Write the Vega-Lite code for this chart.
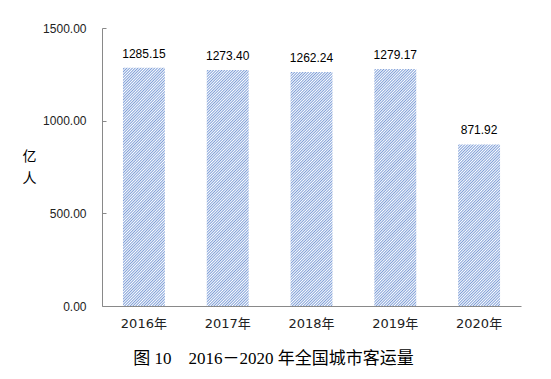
{
  "$schema": "https://vega.github.io/schema/vega-lite/v6.json",
  "width": 419,
  "height": 278,
  "autosize": {"type": "none"},
  "padding": {"left": 102, "top": 28, "right": 30, "bottom": 73},
  "background": "white",
  "config": {"view": {"stroke": null}},
  "data": {"values": [
    {"year": "2016年", "value": 1285.15},
    {"year": "2017年", "value": 1273.40},
    {"year": "2018年", "value": 1262.24},
    {"year": "2019年", "value": 1279.17},
    {"year": "2020年", "value": 871.92}
  ]},
  "encoding": {
    "x": {"field": "year", "type": "nominal", "sort": null,
      "scale": {"paddingInner": 0.5, "paddingOuter": 0.25},
      "axis": {"title": "图 10　2016－2020 年全国城市客运量", "labelAngle": 0, "ticks": false,
        "domainColor": "#898989", "labelFont": "DejaVu Sans, Noto Sans CJK SC", "labelFontSize": 13,
        "labelColor": "#222", "labelPadding": 11, "labelBaseline": "top",
        "titleFont": "Liberation Serif, Noto Sans CJK SC", "titleFontSize": 17, "titleFontWeight": "normal",
        "titleColor": "#000", "titleX": 171, "titleY": 52, "titleAlign": "center", "titleBaseline": "middle"}},
    "y": {"field": "value", "type": "quantitative", "scale": {"domain": [0, 1500]},
      "axis": {"values": [0, 500, 1000, 1500], "format": ".2f", "grid": false,
        "title": ["亿", "人"], "titleAngle": 0, "titleX": -73, "titleY": 128, "titleAlign": "center",
        "titleBaseline": "middle", "titleFont": "Noto Sans CJK SC", "titleFontSize": 14,
        "titleFontWeight": "normal", "titleLineHeight": 22, "titleColor": "#000",
        "domainColor": "#898989", "tickColor": "#898989", "tickSize": -4, "labelPadding": 20,
        "labelFont": "Liberation Sans", "labelFontSize": 12, "labelColor": "#222"}}
  },
  "layer": [
    {"mark": {"type": "bar"},
     "encoding": {"fill": {
       "condition": {"test": "datum.year === '2020年'", "value": {"gradient": "linear", "x1": 0, "y1": 0, "x2": 0.4178, "y2": 1.6113, "stops": [
{"offset":0,"color":"#fff"},{"offset":0.005,"color":"#7f9fd8"},{"offset":0.01,"color":"#fff"},{"offset":0.015,"color":"#7f9fd8"},{"offset":0.02,"color":"#fff"},{"offset":0.025,"color":"#7f9fd8"},{"offset":0.03,"color":"#fff"},{"offset":0.035,"color":"#7f9fd8"},{"offset":0.04,"color":"#fff"},{"offset":0.045,"color":"#7f9fd8"},
{"offset":0.05,"color":"#fff"},{"offset":0.055,"color":"#7f9fd8"},{"offset":0.06,"color":"#fff"},{"offset":0.065,"color":"#7f9fd8"},{"offset":0.07,"color":"#fff"},{"offset":0.075,"color":"#7f9fd8"},{"offset":0.08,"color":"#fff"},{"offset":0.085,"color":"#7f9fd8"},{"offset":0.09,"color":"#fff"},{"offset":0.095,"color":"#7f9fd8"},
{"offset":0.1,"color":"#fff"},{"offset":0.105,"color":"#7f9fd8"},{"offset":0.11,"color":"#fff"},{"offset":0.115,"color":"#7f9fd8"},{"offset":0.12,"color":"#fff"},{"offset":0.125,"color":"#7f9fd8"},{"offset":0.13,"color":"#fff"},{"offset":0.135,"color":"#7f9fd8"},{"offset":0.14,"color":"#fff"},{"offset":0.145,"color":"#7f9fd8"},
{"offset":0.15,"color":"#fff"},{"offset":0.155,"color":"#7f9fd8"},{"offset":0.16,"color":"#fff"},{"offset":0.165,"color":"#7f9fd8"},{"offset":0.17,"color":"#fff"},{"offset":0.175,"color":"#7f9fd8"},{"offset":0.18,"color":"#fff"},{"offset":0.185,"color":"#7f9fd8"},{"offset":0.19,"color":"#fff"},{"offset":0.195,"color":"#7f9fd8"},
{"offset":0.2,"color":"#fff"},{"offset":0.205,"color":"#7f9fd8"},{"offset":0.21,"color":"#fff"},{"offset":0.215,"color":"#7f9fd8"},{"offset":0.22,"color":"#fff"},{"offset":0.225,"color":"#7f9fd8"},{"offset":0.23,"color":"#fff"},{"offset":0.235,"color":"#7f9fd8"},{"offset":0.24,"color":"#fff"},{"offset":0.245,"color":"#7f9fd8"},
{"offset":0.25,"color":"#fff"},{"offset":0.255,"color":"#7f9fd8"},{"offset":0.26,"color":"#fff"},{"offset":0.265,"color":"#7f9fd8"},{"offset":0.27,"color":"#fff"},{"offset":0.275,"color":"#7f9fd8"},{"offset":0.28,"color":"#fff"},{"offset":0.285,"color":"#7f9fd8"},{"offset":0.29,"color":"#fff"},{"offset":0.295,"color":"#7f9fd8"},
{"offset":0.3,"color":"#fff"},{"offset":0.305,"color":"#7f9fd8"},{"offset":0.31,"color":"#fff"},{"offset":0.315,"color":"#7f9fd8"},{"offset":0.32,"color":"#fff"},{"offset":0.325,"color":"#7f9fd8"},{"offset":0.33,"color":"#fff"},{"offset":0.335,"color":"#7f9fd8"},{"offset":0.34,"color":"#fff"},{"offset":0.345,"color":"#7f9fd8"},
{"offset":0.35,"color":"#fff"},{"offset":0.355,"color":"#7f9fd8"},{"offset":0.36,"color":"#fff"},{"offset":0.365,"color":"#7f9fd8"},{"offset":0.37,"color":"#fff"},{"offset":0.375,"color":"#7f9fd8"},{"offset":0.38,"color":"#fff"},{"offset":0.385,"color":"#7f9fd8"},{"offset":0.39,"color":"#fff"},{"offset":0.395,"color":"#7f9fd8"},
{"offset":0.4,"color":"#fff"},{"offset":0.405,"color":"#7f9fd8"},{"offset":0.41,"color":"#fff"},{"offset":0.415,"color":"#7f9fd8"},{"offset":0.42,"color":"#fff"},{"offset":0.425,"color":"#7f9fd8"},{"offset":0.43,"color":"#fff"},{"offset":0.435,"color":"#7f9fd8"},{"offset":0.44,"color":"#fff"},{"offset":0.445,"color":"#7f9fd8"},
{"offset":0.45,"color":"#fff"},{"offset":0.455,"color":"#7f9fd8"},{"offset":0.46,"color":"#fff"},{"offset":0.465,"color":"#7f9fd8"},{"offset":0.47,"color":"#fff"},{"offset":0.475,"color":"#7f9fd8"},{"offset":0.48,"color":"#fff"},{"offset":0.485,"color":"#7f9fd8"},{"offset":0.49,"color":"#fff"},{"offset":0.495,"color":"#7f9fd8"},
{"offset":0.5,"color":"#fff"},{"offset":0.505,"color":"#7f9fd8"},{"offset":0.51,"color":"#fff"},{"offset":0.515,"color":"#7f9fd8"},{"offset":0.52,"color":"#fff"},{"offset":0.525,"color":"#7f9fd8"},{"offset":0.53,"color":"#fff"},{"offset":0.535,"color":"#7f9fd8"},{"offset":0.54,"color":"#fff"},{"offset":0.545,"color":"#7f9fd8"},
{"offset":0.55,"color":"#fff"},{"offset":0.555,"color":"#7f9fd8"},{"offset":0.56,"color":"#fff"},{"offset":0.565,"color":"#7f9fd8"},{"offset":0.57,"color":"#fff"},{"offset":0.575,"color":"#7f9fd8"},{"offset":0.58,"color":"#fff"},{"offset":0.585,"color":"#7f9fd8"},{"offset":0.59,"color":"#fff"},{"offset":0.595,"color":"#7f9fd8"},
{"offset":0.6,"color":"#fff"},{"offset":0.605,"color":"#7f9fd8"},{"offset":0.61,"color":"#fff"},{"offset":0.615,"color":"#7f9fd8"},{"offset":0.62,"color":"#fff"},{"offset":0.625,"color":"#7f9fd8"},{"offset":0.63,"color":"#fff"},{"offset":0.635,"color":"#7f9fd8"},{"offset":0.64,"color":"#fff"},{"offset":0.645,"color":"#7f9fd8"},
{"offset":0.65,"color":"#fff"},{"offset":0.655,"color":"#7f9fd8"},{"offset":0.66,"color":"#fff"},{"offset":0.665,"color":"#7f9fd8"},{"offset":0.67,"color":"#fff"},{"offset":0.675,"color":"#7f9fd8"},{"offset":0.68,"color":"#fff"},{"offset":0.685,"color":"#7f9fd8"},{"offset":0.69,"color":"#fff"},{"offset":0.695,"color":"#7f9fd8"},
{"offset":0.7,"color":"#fff"},{"offset":0.705,"color":"#7f9fd8"},{"offset":0.71,"color":"#fff"},{"offset":0.715,"color":"#7f9fd8"},{"offset":0.72,"color":"#fff"},{"offset":0.725,"color":"#7f9fd8"},{"offset":0.73,"color":"#fff"},{"offset":0.735,"color":"#7f9fd8"},{"offset":0.74,"color":"#fff"},{"offset":0.745,"color":"#7f9fd8"},
{"offset":0.75,"color":"#fff"},{"offset":0.755,"color":"#7f9fd8"},{"offset":0.76,"color":"#fff"},{"offset":0.765,"color":"#7f9fd8"},{"offset":0.77,"color":"#fff"},{"offset":0.775,"color":"#7f9fd8"},{"offset":0.78,"color":"#fff"},{"offset":0.785,"color":"#7f9fd8"},{"offset":0.79,"color":"#fff"},{"offset":0.795,"color":"#7f9fd8"},
{"offset":0.8,"color":"#fff"},{"offset":0.805,"color":"#7f9fd8"},{"offset":0.81,"color":"#fff"},{"offset":0.815,"color":"#7f9fd8"},{"offset":0.82,"color":"#fff"},{"offset":0.825,"color":"#7f9fd8"},{"offset":0.83,"color":"#fff"},{"offset":0.835,"color":"#7f9fd8"},{"offset":0.84,"color":"#fff"},{"offset":0.845,"color":"#7f9fd8"},
{"offset":0.85,"color":"#fff"},{"offset":0.855,"color":"#7f9fd8"},{"offset":0.86,"color":"#fff"},{"offset":0.865,"color":"#7f9fd8"},{"offset":0.87,"color":"#fff"},{"offset":0.875,"color":"#7f9fd8"},{"offset":0.88,"color":"#fff"},{"offset":0.885,"color":"#7f9fd8"},{"offset":0.89,"color":"#fff"},{"offset":0.895,"color":"#7f9fd8"},
{"offset":0.9,"color":"#fff"},{"offset":0.905,"color":"#7f9fd8"},{"offset":0.91,"color":"#fff"},{"offset":0.915,"color":"#7f9fd8"},{"offset":0.92,"color":"#fff"},{"offset":0.925,"color":"#7f9fd8"},{"offset":0.93,"color":"#fff"},{"offset":0.935,"color":"#7f9fd8"},{"offset":0.94,"color":"#fff"},{"offset":0.945,"color":"#7f9fd8"},
{"offset":0.95,"color":"#fff"},{"offset":0.955,"color":"#7f9fd8"},{"offset":0.96,"color":"#fff"},{"offset":0.965,"color":"#7f9fd8"},{"offset":0.97,"color":"#fff"},{"offset":0.975,"color":"#7f9fd8"},{"offset":0.98,"color":"#fff"},{"offset":0.985,"color":"#7f9fd8"},{"offset":0.99,"color":"#fff"},{"offset":0.995,"color":"#7f9fd8"},
{"offset":1,"color":"#fff"}]}},
       "value": {"gradient": "linear", "x1": 0, "y1": 0, "x2": 0.2027, "y2": 1.1415, "stops": [
{"offset":0,"color":"#fff"},{"offset":0.005,"color":"#7f9fd8"},{"offset":0.01,"color":"#fff"},{"offset":0.015,"color":"#7f9fd8"},{"offset":0.02,"color":"#fff"},{"offset":0.025,"color":"#7f9fd8"},{"offset":0.03,"color":"#fff"},{"offset":0.035,"color":"#7f9fd8"},{"offset":0.04,"color":"#fff"},{"offset":0.045,"color":"#7f9fd8"},
{"offset":0.05,"color":"#fff"},{"offset":0.055,"color":"#7f9fd8"},{"offset":0.06,"color":"#fff"},{"offset":0.065,"color":"#7f9fd8"},{"offset":0.07,"color":"#fff"},{"offset":0.075,"color":"#7f9fd8"},{"offset":0.08,"color":"#fff"},{"offset":0.085,"color":"#7f9fd8"},{"offset":0.09,"color":"#fff"},{"offset":0.095,"color":"#7f9fd8"},
{"offset":0.1,"color":"#fff"},{"offset":0.105,"color":"#7f9fd8"},{"offset":0.11,"color":"#fff"},{"offset":0.115,"color":"#7f9fd8"},{"offset":0.12,"color":"#fff"},{"offset":0.125,"color":"#7f9fd8"},{"offset":0.13,"color":"#fff"},{"offset":0.135,"color":"#7f9fd8"},{"offset":0.14,"color":"#fff"},{"offset":0.145,"color":"#7f9fd8"},
{"offset":0.15,"color":"#fff"},{"offset":0.155,"color":"#7f9fd8"},{"offset":0.16,"color":"#fff"},{"offset":0.165,"color":"#7f9fd8"},{"offset":0.17,"color":"#fff"},{"offset":0.175,"color":"#7f9fd8"},{"offset":0.18,"color":"#fff"},{"offset":0.185,"color":"#7f9fd8"},{"offset":0.19,"color":"#fff"},{"offset":0.195,"color":"#7f9fd8"},
{"offset":0.2,"color":"#fff"},{"offset":0.205,"color":"#7f9fd8"},{"offset":0.21,"color":"#fff"},{"offset":0.215,"color":"#7f9fd8"},{"offset":0.22,"color":"#fff"},{"offset":0.225,"color":"#7f9fd8"},{"offset":0.23,"color":"#fff"},{"offset":0.235,"color":"#7f9fd8"},{"offset":0.24,"color":"#fff"},{"offset":0.245,"color":"#7f9fd8"},
{"offset":0.25,"color":"#fff"},{"offset":0.255,"color":"#7f9fd8"},{"offset":0.26,"color":"#fff"},{"offset":0.265,"color":"#7f9fd8"},{"offset":0.27,"color":"#fff"},{"offset":0.275,"color":"#7f9fd8"},{"offset":0.28,"color":"#fff"},{"offset":0.285,"color":"#7f9fd8"},{"offset":0.29,"color":"#fff"},{"offset":0.295,"color":"#7f9fd8"},
{"offset":0.3,"color":"#fff"},{"offset":0.305,"color":"#7f9fd8"},{"offset":0.31,"color":"#fff"},{"offset":0.315,"color":"#7f9fd8"},{"offset":0.32,"color":"#fff"},{"offset":0.325,"color":"#7f9fd8"},{"offset":0.33,"color":"#fff"},{"offset":0.335,"color":"#7f9fd8"},{"offset":0.34,"color":"#fff"},{"offset":0.345,"color":"#7f9fd8"},
{"offset":0.35,"color":"#fff"},{"offset":0.355,"color":"#7f9fd8"},{"offset":0.36,"color":"#fff"},{"offset":0.365,"color":"#7f9fd8"},{"offset":0.37,"color":"#fff"},{"offset":0.375,"color":"#7f9fd8"},{"offset":0.38,"color":"#fff"},{"offset":0.385,"color":"#7f9fd8"},{"offset":0.39,"color":"#fff"},{"offset":0.395,"color":"#7f9fd8"},
{"offset":0.4,"color":"#fff"},{"offset":0.405,"color":"#7f9fd8"},{"offset":0.41,"color":"#fff"},{"offset":0.415,"color":"#7f9fd8"},{"offset":0.42,"color":"#fff"},{"offset":0.425,"color":"#7f9fd8"},{"offset":0.43,"color":"#fff"},{"offset":0.435,"color":"#7f9fd8"},{"offset":0.44,"color":"#fff"},{"offset":0.445,"color":"#7f9fd8"},
{"offset":0.45,"color":"#fff"},{"offset":0.455,"color":"#7f9fd8"},{"offset":0.46,"color":"#fff"},{"offset":0.465,"color":"#7f9fd8"},{"offset":0.47,"color":"#fff"},{"offset":0.475,"color":"#7f9fd8"},{"offset":0.48,"color":"#fff"},{"offset":0.485,"color":"#7f9fd8"},{"offset":0.49,"color":"#fff"},{"offset":0.495,"color":"#7f9fd8"},
{"offset":0.5,"color":"#fff"},{"offset":0.505,"color":"#7f9fd8"},{"offset":0.51,"color":"#fff"},{"offset":0.515,"color":"#7f9fd8"},{"offset":0.52,"color":"#fff"},{"offset":0.525,"color":"#7f9fd8"},{"offset":0.53,"color":"#fff"},{"offset":0.535,"color":"#7f9fd8"},{"offset":0.54,"color":"#fff"},{"offset":0.545,"color":"#7f9fd8"},
{"offset":0.55,"color":"#fff"},{"offset":0.555,"color":"#7f9fd8"},{"offset":0.56,"color":"#fff"},{"offset":0.565,"color":"#7f9fd8"},{"offset":0.57,"color":"#fff"},{"offset":0.575,"color":"#7f9fd8"},{"offset":0.58,"color":"#fff"},{"offset":0.585,"color":"#7f9fd8"},{"offset":0.59,"color":"#fff"},{"offset":0.595,"color":"#7f9fd8"},
{"offset":0.6,"color":"#fff"},{"offset":0.605,"color":"#7f9fd8"},{"offset":0.61,"color":"#fff"},{"offset":0.615,"color":"#7f9fd8"},{"offset":0.62,"color":"#fff"},{"offset":0.625,"color":"#7f9fd8"},{"offset":0.63,"color":"#fff"},{"offset":0.635,"color":"#7f9fd8"},{"offset":0.64,"color":"#fff"},{"offset":0.645,"color":"#7f9fd8"},
{"offset":0.65,"color":"#fff"},{"offset":0.655,"color":"#7f9fd8"},{"offset":0.66,"color":"#fff"},{"offset":0.665,"color":"#7f9fd8"},{"offset":0.67,"color":"#fff"},{"offset":0.675,"color":"#7f9fd8"},{"offset":0.68,"color":"#fff"},{"offset":0.685,"color":"#7f9fd8"},{"offset":0.69,"color":"#fff"},{"offset":0.695,"color":"#7f9fd8"},
{"offset":0.7,"color":"#fff"},{"offset":0.705,"color":"#7f9fd8"},{"offset":0.71,"color":"#fff"},{"offset":0.715,"color":"#7f9fd8"},{"offset":0.72,"color":"#fff"},{"offset":0.725,"color":"#7f9fd8"},{"offset":0.73,"color":"#fff"},{"offset":0.735,"color":"#7f9fd8"},{"offset":0.74,"color":"#fff"},{"offset":0.745,"color":"#7f9fd8"},
{"offset":0.75,"color":"#fff"},{"offset":0.755,"color":"#7f9fd8"},{"offset":0.76,"color":"#fff"},{"offset":0.765,"color":"#7f9fd8"},{"offset":0.77,"color":"#fff"},{"offset":0.775,"color":"#7f9fd8"},{"offset":0.78,"color":"#fff"},{"offset":0.785,"color":"#7f9fd8"},{"offset":0.79,"color":"#fff"},{"offset":0.795,"color":"#7f9fd8"},
{"offset":0.8,"color":"#fff"},{"offset":0.805,"color":"#7f9fd8"},{"offset":0.81,"color":"#fff"},{"offset":0.815,"color":"#7f9fd8"},{"offset":0.82,"color":"#fff"},{"offset":0.825,"color":"#7f9fd8"},{"offset":0.83,"color":"#fff"},{"offset":0.835,"color":"#7f9fd8"},{"offset":0.84,"color":"#fff"},{"offset":0.845,"color":"#7f9fd8"},
{"offset":0.85,"color":"#fff"},{"offset":0.855,"color":"#7f9fd8"},{"offset":0.86,"color":"#fff"},{"offset":0.865,"color":"#7f9fd8"},{"offset":0.87,"color":"#fff"},{"offset":0.875,"color":"#7f9fd8"},{"offset":0.88,"color":"#fff"},{"offset":0.885,"color":"#7f9fd8"},{"offset":0.89,"color":"#fff"},{"offset":0.895,"color":"#7f9fd8"},
{"offset":0.9,"color":"#fff"},{"offset":0.905,"color":"#7f9fd8"},{"offset":0.91,"color":"#fff"},{"offset":0.915,"color":"#7f9fd8"},{"offset":0.92,"color":"#fff"},{"offset":0.925,"color":"#7f9fd8"},{"offset":0.93,"color":"#fff"},{"offset":0.935,"color":"#7f9fd8"},{"offset":0.94,"color":"#fff"},{"offset":0.945,"color":"#7f9fd8"},
{"offset":0.95,"color":"#fff"},{"offset":0.955,"color":"#7f9fd8"},{"offset":0.96,"color":"#fff"},{"offset":0.965,"color":"#7f9fd8"},{"offset":0.97,"color":"#fff"},{"offset":0.975,"color":"#7f9fd8"},{"offset":0.98,"color":"#fff"},{"offset":0.985,"color":"#7f9fd8"},{"offset":0.99,"color":"#fff"},{"offset":0.995,"color":"#7f9fd8"},
{"offset":1,"color":"#fff"}]}
     }}},
    {"mark": {"type": "text", "dy": -10, "baseline": "alphabetic", "font": "Liberation Sans", "fontSize": 12, "color": "#000"},
     "encoding": {"text": {"field": "value", "type": "quantitative", "format": ".2f"}}}
  ]
}
